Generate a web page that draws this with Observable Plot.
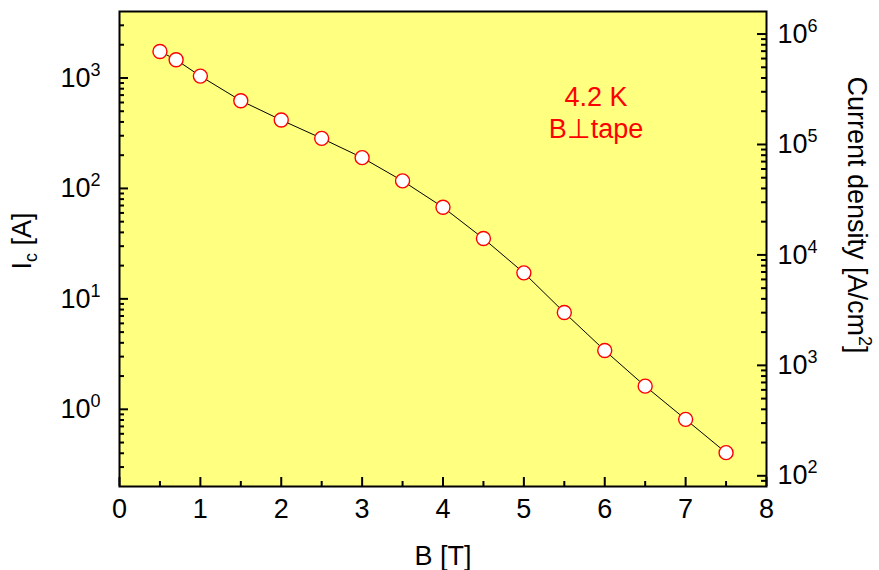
<!DOCTYPE html>
<html>
<head>
<meta charset="utf-8">
<script src="https://cdn.jsdelivr.net/npm/d3@7"></script>
<script src="https://cdn.jsdelivr.net/npm/@observablehq/plot@0.6"></script>
<style>
  html, body { margin: 0; padding: 0; background: #ffffff; }
  #chart { position: relative; width: 879px; height: 570px; }
  #chart svg { display: block; position: absolute; left: 0; top: 0; }
</style>
</head>
<body>
<div id="chart"></div>
<script>
// Data
const fieldB = [0.5, 0.7, 1, 1.5, 2, 2.5, 3, 3.5, 4, 4.5, 5, 5.5, 6, 6.5, 7, 7.5];
const currentIc = [1738, 1462, 1040, 623, 416, 284, 190, 117, 67.5, 35.2, 17.2, 7.53, 3.41, 1.62, 0.811, 0.405];

// Axis tick values
const xMajors = [0, 1, 2, 3, 4, 5, 6, 7, 8];
const xMinors = [0.5, 1.5, 2.5, 3.5, 4.5, 5.5, 6.5, 7.5];
const leftMajors = [1, 10, 100, 1000];
const rightMajors = [1e2, 1e3, 1e4, 1e5, 1e6];
const yDomain = [0.2, 4000];
const densityFactor = 400; // A -> A/cm^2 (right axis)

const data = fieldB.map((b, i) => ({B: b, Ic: currentIc[i]}));

function minorsBetween(lo, hi) {
  const out = [];
  for (let e = Math.floor(Math.log10(lo)); e <= Math.ceil(Math.log10(hi)); e++) {
    for (let m = 2; m <= 9; m++) {
      const v = m * Math.pow(10, e);
      if (v > lo * 1.0001 && v < hi * 0.9999) out.push(v);
    }
  }
  return out;
}
const leftMinors = minorsBetween(yDomain[0], yDomain[1]);
const rightMinors = minorsBetween(yDomain[0] * densityFactor, yDomain[1] * densityFactor);

const W = 879, H = 570;
const mL = 119, mR = 113, mT = 11, mB = 84;
const frameW = W - mL - mR, frameH = H - mT - mB;
const majorLen = 9, minorLen = 5;
const font = "Arial, 'Liberation Sans', sans-serif";
const fs = 27;
const tw = 2;

const layout = {
  width: W, height: H,
  marginLeft: mL, marginRight: mR, marginTop: mT, marginBottom: mB,
  x: {domain: [0, 8], axis: null},
  y: {type: "log", domain: yDomain, axis: null}
};

const plot = Plot.plot({
  ...layout,
  style: {fontFamily: font, background: "#ffffff"},
  marks: [
    Plot.frame({fill: "#ffff80", stroke: null}),
    // tick labels
    Plot.text(xMajors, {x: d => d, frameAnchor: "bottom", lineAnchor: "middle", dy: 23, text: d => String(d), fontSize: fs, fill: "black"}),
    Plot.text(leftMajors, {y: d => d, frameAnchor: "left", lineAnchor: "middle", dx: -19, textAnchor: "end", text: d => "10^" + Math.round(Math.log10(d)), fontSize: fs, fill: "black"}),
    Plot.text(rightMajors, {y: d => d / densityFactor, frameAnchor: "right", lineAnchor: "middle", dx: 11, textAnchor: "start", text: d => "10^" + Math.round(Math.log10(d)), fontSize: fs, fill: "black"}),
    // axis titles
    Plot.text(["B [T]"], {frameAnchor: "bottom", lineAnchor: "middle", textAnchor: "middle", dy: 70, text: d => d, fontSize: fs, fill: "black"}),
    Plot.text(["I_c [A]"], {frameAnchor: "left", lineAnchor: "middle", textAnchor: "middle", dx: -97, dy: -8, rotate: -90, text: d => d, fontSize: fs, fill: "black"}),
    Plot.text(["Current density [A/cm^2]"], {frameAnchor: "right", lineAnchor: "middle", textAnchor: "middle", dx: 90, dy: -34, rotate: 90, text: d => d, fontSize: fs, fill: "black"}),
    // annotation
    Plot.text(["4.2 K"], {frameAnchor: "top", lineAnchor: "middle", textAnchor: "middle", dx: 153, dy: 86, text: d => d, fontSize: fs, fill: "#ff0000"}),
    Plot.text(["B\u22A5tape"], {frameAnchor: "top", lineAnchor: "middle", textAnchor: "middle", dx: 153, dy: 118, text: d => d, fontSize: fs, fill: "#ff0000"}),
    // data
    Plot.line(data, {x: "B", y: "Ic", stroke: "black", strokeWidth: 1}),
    Plot.dot(data, {x: "B", y: "Ic", r: 7, fill: "white", stroke: "#ff0000", strokeWidth: 1.4})
  ]
});

// inward ticks and frame, drawn with the same scales in a transparent overlay
const ticks = Plot.plot({
  ...layout,
  style: {background: "transparent"},
  marks: [
    Plot.tickX(xMajors, {x: d => d, insetTop: frameH - majorLen, stroke: "black", strokeWidth: tw}),
    Plot.tickX(xMinors, {x: d => d, insetTop: frameH - minorLen, stroke: "black", strokeWidth: tw}),
    Plot.tickY(leftMajors, {y: d => d, insetRight: frameW - majorLen, stroke: "black", strokeWidth: tw}),
    Plot.tickY(leftMinors, {y: d => d, insetRight: frameW - minorLen, stroke: "black", strokeWidth: tw}),
    Plot.tickY(rightMajors, {y: d => d / densityFactor, insetLeft: frameW - majorLen, stroke: "black", strokeWidth: tw}),
    Plot.tickY(rightMinors, {y: d => d / densityFactor, insetLeft: frameW - minorLen, stroke: "black", strokeWidth: tw}),
    Plot.frame({stroke: "black", strokeWidth: 2})
  ]
});
ticks.style.background = "transparent";
ticks.style.pointerEvents = "none";

// Turn "10^n" into a superscript and "I_c" into a subscript
const NS = "http://www.w3.org/2000/svg";
function span(txt, dy, size) {
  const s = document.createElementNS(NS, "tspan");
  if (dy) s.setAttribute("dy", dy);
  if (size) s.setAttribute("font-size", size);
  s.textContent = txt;
  return s;
}
plot.querySelectorAll("text").forEach(t => {
  const s = t.textContent;
  let m;
  if ((m = s.match(/^10\^(-?\d+)$/))) {
    t.textContent = "10";
    t.appendChild(span(m[1], "-11", "18"));
  } else if (s === "I_c [A]") {
    t.textContent = "I";
    t.appendChild(span("c", "6", "18"));
    t.appendChild(span(" [A]", "-6"));
  } else if (s === "Current density [A/cm^2]") {
    t.textContent = "Current density [A/cm";
    t.appendChild(span("2", "-11", "18"));
    t.appendChild(span("]", "11"));
  }
});

const chart = document.getElementById("chart");
chart.appendChild(plot);
chart.appendChild(ticks);
</script>
</body>
</html>
